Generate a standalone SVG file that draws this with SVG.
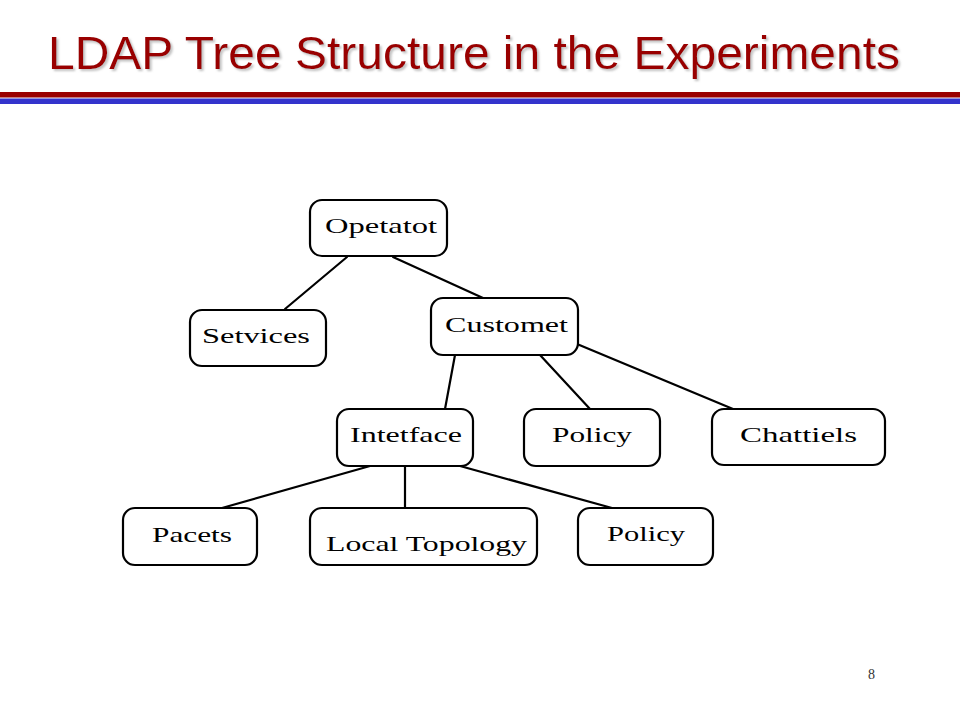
<svg xmlns="http://www.w3.org/2000/svg" width="960" height="720" viewBox="0 0 960 720">
  <style>
    .box { fill: #ffffff; stroke: #000000; stroke-width: 2.2; }
    .lbl { font-family: "Liberation Serif", "DejaVu Serif", serif; font-size: 22px; fill: #000000; }
    .edge { stroke: #000000; stroke-width: 2.2; fill: none; stroke-linecap: round; }
    .title { font-family: "Liberation Sans", Arial, sans-serif; font-size: 47px; }
  </style>
  <defs>
    <filter id="shadow" x="-5%" y="-20%" width="110%" height="150%">
      <feDropShadow dx="2" dy="2" stdDeviation="0.8" flood-color="#9a9a9a" flood-opacity="0.6"/>
    </filter>
  </defs>
  <rect x="0" y="0" width="960" height="720" fill="#ffffff"/>

  <g id="title">
    <text class="title" x="48" y="69" fill="#990000" filter="url(#shadow)" textLength="852" lengthAdjust="spacingAndGlyphs">LDAP Tree Structure in the Experiments</text>
    <rect x="0" y="92" width="960" height="5.5" fill="#990000"/>
    <rect x="0" y="98.5" width="960" height="5.5" fill="#3333cc"/>
  </g>

  <g id="connectors">
    <line class="edge" x1="347" y1="257" x2="285" y2="309"/>
    <line class="edge" x1="393" y1="257" x2="483" y2="298"/>
    <line class="edge" x1="455" y1="355" x2="445" y2="409"/>
    <line class="edge" x1="540" y1="355" x2="590" y2="409"/>
    <line class="edge" x1="577" y1="344" x2="733" y2="409"/>
    <line class="edge" x1="370" y1="466" x2="222" y2="508"/>
    <line class="edge" x1="405" y1="466" x2="405" y2="508"/>
    <line class="edge" x1="460" y1="466" x2="612" y2="508"/>
  </g>

  <g id="node-operator">
    <rect class="box" x="310" y="200" width="137" height="56" rx="12"/>
    <text class="lbl" x="325" y="233" textLength="112" lengthAdjust="spacingAndGlyphs">Opetatot</text>
  </g>
  <g id="node-services">
    <rect class="box" x="190" y="310" width="136" height="56" rx="12"/>
    <text class="lbl" x="202" y="343" textLength="108" lengthAdjust="spacingAndGlyphs">Setvices</text>
  </g>
  <g id="node-customer">
    <rect class="box" x="431" y="298" width="147" height="57" rx="12"/>
    <text class="lbl" x="445" y="332" textLength="123" lengthAdjust="spacingAndGlyphs">Customet</text>
  </g>
  <g id="node-interface">
    <rect class="box" x="337" y="409" width="136" height="57" rx="12"/>
    <text class="lbl" x="350" y="442" textLength="112" lengthAdjust="spacingAndGlyphs">Intetface</text>
  </g>
  <g id="node-policy1">
    <rect class="box" x="524" y="409" width="136" height="57" rx="12"/>
    <text class="lbl" x="552" y="442" textLength="80" lengthAdjust="spacingAndGlyphs">Policy</text>
  </g>
  <g id="node-channels">
    <rect class="box" x="712" y="409" width="173" height="56" rx="12"/>
    <text class="lbl" x="740" y="442" textLength="117" lengthAdjust="spacingAndGlyphs">Chattiels</text>
  </g>
  <g id="node-packets">
    <rect class="box" x="123" y="508" width="134" height="57" rx="12"/>
    <text class="lbl" x="152" y="542" textLength="80" lengthAdjust="spacingAndGlyphs">Pacets</text>
  </g>
  <g id="node-localtopology">
    <rect class="box" x="310" y="508" width="227" height="57" rx="12"/>
    <text class="lbl" x="326" y="551" textLength="201" lengthAdjust="spacingAndGlyphs">Local Topology</text>
  </g>
  <g id="node-policy2">
    <rect class="box" x="578" y="508" width="135" height="57" rx="12"/>
    <text class="lbl" x="607" y="541" textLength="78" lengthAdjust="spacingAndGlyphs">Policy</text>
  </g>

  <text x="868" y="679" font-family="Liberation Serif, serif" font-size="14" fill="#333333">8</text>
</svg>
